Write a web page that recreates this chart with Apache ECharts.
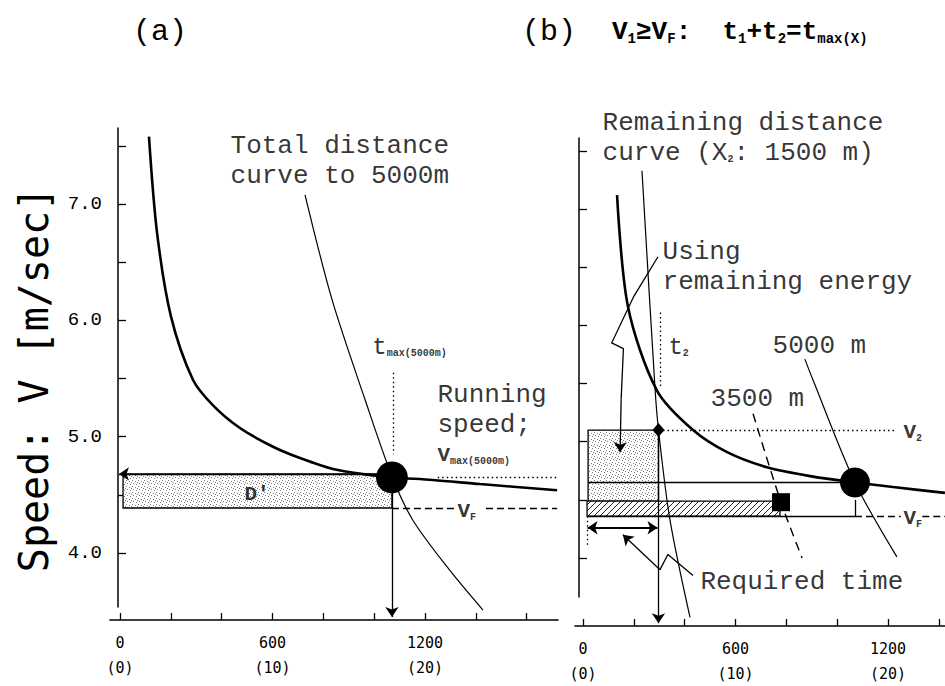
<!DOCTYPE html>
<html>
<head>
<meta charset="utf-8">
<script src="https://cdn.jsdelivr.net/npm/echarts@6/dist/echarts.min.js"></script>
<style>html,body{margin:0;padding:0;background:#fff}#main{width:945px;height:686px}</style>
</head>
<body>
<div id="main"></div>
<script type="text/javascript">
// values: time in s, speed in m/s
var xTicksA = [0, 200, 400, 600, 800, 1000, 1200, 1400, 1600];
var xTicksB = [0, 200, 400, 600, 800, 1000, 1200, 1400];
var xLabelVals = [0, 600, 1200];
var yTicks = [4, 4.5, 5, 5.5, 6, 6.5, 7, 7.5];
var yLabelVals = [4, 5, 6, 7];

// (a) speed curve (thick) and total distance curve to 5000m (thin)
var speedT_a = [114, 146, 201, 287, 366, 472, 602, 708, 838, 972, 1070, 1231, 1416, 1720];
var speedV_a = [7.58, 6.75, 6.03, 5.49, 5.27, 5.075, 4.914, 4.817, 4.722, 4.674, 4.65, 4.628, 4.593, 4.54];
var distT_a = [728, 834, 964, 1070, 1153, 1298, 1428];
var distV_a = [7.08, 6.18, 5.32, 4.66, 4.28, 3.85, 3.51];

// (b) speed curve, remaining distance curve (1500 m), 5000 m and 3500 m curves
var speedT_b = [134, 177, 291, 433, 567, 724, 905, 1070, 1220, 1424];
var speedV_b = [7.12, 6.16, 5.44, 5.10, 4.91, 4.78, 4.70, 4.65, 4.61, 4.56];
var remainT_b = [232, 283, 297, 342, 421];
var remainV_b = [7.33, 5.47, 5.10, 4.33, 3.49];
var d5000T_b = [873, 905, 1070, 1235];
var d5000V_b = [5.71, 5.53, 4.65, 4.01];
var d3500T_b = [669, 779, 862];
var d3500V_b = [5.24, 4.48, 4.00];

var tMax = 1070, vMax = 4.65;
var vF_a = 4.387, vF_b = 4.36;
var t2 = 297, v2 = 5.10;
var square_b = [779, 4.48];

// boxes: [t from, t to, v low, v high, fill 0=stipple 1=hatch]
var boxesA = [[12, tMax, vF_a, 4.68, 0]];
var boxesB = [[20, t2, 4.49, v2, 0], [16, 775, vF_b, 4.49, 1]];

var mono = 'Liberation Mono';

function makePattern(kind) {
    var c = document.createElement('canvas');
    c.width = 6; c.height = 6;
    var ctx = c.getContext('2d');
    ctx.fillStyle = '#fff';
    ctx.fillRect(0, 0, 6, 6);
    if (kind === 0) {
        ctx.fillStyle = '#7a7a7a';
        [[0, 0], [3, 1], [1, 3], [4, 4], [5, 2]].forEach(function (p) { ctx.fillRect(p[0], p[1], 1, 1); });
    } else {
        ctx.strokeStyle = '#222';
        ctx.lineWidth = 1;
        ctx.beginPath();
        ctx.moveTo(0, 6); ctx.lineTo(6, 0);
        ctx.moveTo(-1, 1); ctx.lineTo(1, -1);
        ctx.moveTo(5, 7); ctx.lineTo(7, 5);
        ctx.stroke();
    }
    return {image: c, repeat: 'repeat', imageWidth: 6, imageHeight: 6};
}
var fills = [makePattern(0), makePattern(1)];

function pairs(ts, vs) {
    return ts.map(function (t, i) { return [t, vs[i]]; });
}

function curve(ts, vs, g, width, type) {
    return {
        type: 'line', xAxisIndex: g, yAxisIndex: g, data: pairs(ts, vs),
        smooth: 0.3, showSymbol: false, clip: false, silent: true,
        lineStyle: {color: '#000', width: width, type: type || 'solid'}
    };
}

// straight segments (and polylines when poly is set)
function segs(list, g, sym, poly) {
    return {
        type: 'lines', coordinateSystem: 'cartesian2d', xAxisIndex: g, yAxisIndex: g,
        polyline: !!poly, clip: false, silent: true,
        symbol: sym || 'none', symbolSize: 10,
        lineStyle: {color: '#000', width: 1.3, opacity: 1, curveness: 0},
        data: list.map(function (s) {
            return {coords: s.c, lineStyle: {type: s.s || 'solid', width: s.w || 1.3}};
        })
    };
}

// a leader: polyline body plus its last step drawn with an arrow head
function leaderBody(list) {
    return list.map(function (s) { return {c: s.c.slice(0, s.c.length - 1), w: s.w}; });
}
function leaderTip(list) {
    return list.map(function (s) { return {c: s.c.slice(s.c.length - 2), w: s.w}; });
}

function boxes(list, g) {
    return {
        type: 'custom', xAxisIndex: g, yAxisIndex: g, silent: true,
        data: list,
        renderItem: function (params, api) {
            var p1 = api.coord([api.value(0), api.value(3)]);
            var p2 = api.coord([api.value(1), api.value(2)]);
            return {
                type: 'rect',
                shape: {x: p1[0], y: p1[1], width: p2[0] - p1[0], height: p2[1] - p1[1]},
                style: {fill: fills[api.value(4)], stroke: '#000', lineWidth: 1.3}
            };
        }
    };
}

function marks(points, g, symbol, size) {
    return {
        type: 'scatter', xAxisIndex: g, yAxisIndex: g, silent: true, clip: false,
        symbol: symbol, symbolSize: size, itemStyle: {color: '#000', opacity: 1},
        data: points
    };
}

var rich = {
    t: {fontFamily: mono, fontSize: 24, color: '#000'},
    v: {fontFamily: mono, fontSize: 21, fontWeight: 'bold', color: '#000'},
    x: {fontFamily: mono, fontSize: 26, color: '#000'},
    s: {fontFamily: mono, fontSize: 10, fontWeight: 'bold', color: '#000', padding: [12, 0, 0, 0]}
};
var titleRich = {
    v: {fontFamily: mono, fontSize: 26, fontWeight: 'bold', color: '#000'},
    s: {fontFamily: mono, fontSize: 14, fontWeight: 'bold', color: '#000', padding: [13, 0, 0, 0]}
};

function notes(list, g) {
    return {
        type: 'scatter', xAxisIndex: g, yAxisIndex: g, silent: true, clip: false,
        symbolSize: 1, itemStyle: {color: 'rgba(0,0,0,0)'},
        data: list.map(function (n) {
            var lab = {formatter: n[2], position: n[3] === 'c' ? 'inside' : 'right', distance: 0};
            if (n[3] === 'c') { lab.fontWeight = 'bold'; lab.fontSize = 21; }
            return {value: [n[0], n[1]], label: lab};
        }),
        label: {show: true, color: '#000', fontFamily: mono, fontSize: 26, lineHeight: 30, rich: rich}
    };
}

var notesA = [
    [433, 7.37, 'Total distance\ncurve to 5000m'],
    [991, 5.77, '{t|t}{s|max(5000m)}'],
    [1247, 5.10, 'Running\nspeed;\n{v|V}{s|max(5000m)}'],
    [539, 4.50, "D'", 'c'],
    [1326, 4.36, '{v|V}{s|F}']
];
var notesB = [
    [75, 7.61, 'Remaining distance\ncurve ({x|X}{s|2}: 1500 m)'],
    [311, 6.50, 'Using\nremaining energy'],
    [334, 5.81, '{t|t}{s|2}'],
    [744, 5.82, '5000 m'],
    [500, 5.37, '3500 m'],
    [1259, 5.08, '{v|V}{s|2}'],
    [1259, 4.34, '{v|V}{s|F}'],
    [460, 3.79, 'Required time']
];

var dotted = [1.5, 3];
var dashed = [7, 4];

var plainA = [
    {c: [[tMax, vF_a], [1315, vF_a]], s: dashed},
    {c: [[1440, vF_a], [1720, vF_a]], s: dashed},
    {c: [[1250, vMax], [1720, vMax]], s: dotted},
    {c: [[1075, 5.55], [1075, 4.85]], s: dotted}
];
var arrowsA = [
    {c: [[tMax, vMax], [tMax, 3.45]]},
    {c: [[tMax, 4.68], [-4, 4.68]]}
];

var plainB = [
    {c: [[t2, v2], [1235, v2]], s: dotted},
    {c: [[20, vMax], [tMax, vMax]]},
    {c: [[16, vF_b], [tMax, vF_b]]},
    {c: [[tMax, vF_b], [tMax, 4.50]]},
    {c: [[tMax, vF_b], [1250, vF_b]], s: dashed},
    {c: [[1335, vF_b], [1424, vF_b]], s: dashed},
    {c: [[305, 6.11], [305, 5.47]], s: dotted},
    {c: [[16, vF_b], [16, 4.09]], s: dotted}
];
var arrowsB = [
    {c: [[t2, v2], [t2, 3.44]]}
];
var leadersB = [
    {c: [[433, 3.85], [334, 4.03], [303, 3.90], [157, 4.20]]},
    {c: [[295, 6.59], [200, 6.25], [113, 5.85], [159, 5.80], [150, 5.36], [146, 4.91]]}
];
var doubleB = [
    {c: [[18, 4.26], [293, 4.26]], w: 2}
];

function xAxisFor(g, min, max, ticks, offset) {
    return {
        type: 'value', gridIndex: g, min: min, max: max, offset: offset,
        axisLine: {onZero: false, lineStyle: {color: '#000', width: 1.6}},
        axisTick: {inside: true, length: 7, customValues: ticks, lineStyle: {color: '#000', width: 1.3}},
        axisLabel: {
            customValues: xLabelVals, margin: 10, color: '#000',
            fontFamily: 'DejaVu Sans Mono', fontSize: 15, lineHeight: 25,
            formatter: function (v) { return v + '\n(' + (v / 60) + ')'; }
        },
        splitLine: {show: false}
    };
}

function yAxisFor(g, min, max, offset, showLabels) {
    return {
        type: 'value', gridIndex: g, min: min, max: max, offset: offset,
        axisLine: {show: true, onZero: false, lineStyle: {color: '#000', width: 1.5}},
        axisTick: {show: true, inside: true, length: 8, customValues: yTicks, lineStyle: {color: '#000', width: 1.3}},
        axisLabel: {
            show: showLabels, customValues: yLabelVals, margin: 16, color: '#000',
            fontFamily: mono, fontSize: 19,
            formatter: function (v) { return v.toFixed(1); }
        },
        splitLine: {show: false}
    };
}

var myChart = echarts.init(document.getElementById('main'), null, {renderer: 'svg'});

var yA = yAxisFor(0, 3.536, 7.654, -8, true);
yA.name = 'Speed: V [m/sec]';
yA.nameLocation = 'middle';
yA.nameRotate = 90;
yA.nameGap = 64;
yA.nameTextStyle = {fontFamily: 'DejaVu Sans Mono', fontSize: 40, color: '#000', padding: [0, 24, 0, 0]};

var option = {
    backgroundColor: '#fff',
    animation: false,
    title: [
        {text: '(a)', left: 128, top: 12, textStyle: {fontFamily: mono, fontSize: 30, fontWeight: 'normal', color: '#000'}},
        {
            text: '(b)  {v|V}{s|1}{v|≥V}{s|F}{v|:  t}{s|1}{v|+t}{s|2}{v|=t}{s|max(X)}',
            left: 517, top: 12,
            textStyle: {fontFamily: mono, fontSize: 30, fontWeight: 'normal', color: '#000', rich: titleRich}
        }
    ],
    grid: [
        {left: 110, top: 128, width: 448, height: 479},
        {left: 575, top: 138, width: 370, height: 459}
    ],
    xAxis: [
        xAxisFor(0, -39.3, 1723.3, xTicksA, 13),
        xAxisFor(1, -31.5, 1424.3, xTicksB, 29)
    ],
    yAxis: [
        yA,
        yAxisFor(1, 3.665, 7.611, -4, false)
    ],
    series: [
        boxes(boxesA, 0),
        curve(speedT_a, speedV_a, 0, 2.6),
        curve(distT_a, distV_a, 0, 1.2),
        segs(plainA, 0),
        segs(arrowsA, 0, ['none', 'arrow']),
        marks([[tMax, vMax]], 0, 'circle', 32),
        notes(notesA, 0),

        boxes(boxesB, 1),
        curve(speedT_b, speedV_b, 1, 2.6),
        curve(remainT_b, remainV_b, 1, 1.2),
        curve(d5000T_b, d5000V_b, 1, 1.2),
        curve(d3500T_b, d3500V_b, 1, 1.4, [9, 6]),
        segs(plainB, 1),
        segs(leaderBody(leadersB), 1, 'none', true),
        segs(arrowsB.concat(leaderTip(leadersB)), 1, ['none', 'arrow']),
        segs(doubleB, 1, ['arrow', 'arrow']),
        marks([[tMax, vMax]], 1, 'circle', 30),
        marks([square_b], 1, 'rect', 18),
        marks([[t2, v2]], 1, 'diamond', [12, 14]),
        notes(notesB, 1)
    ]
};

myChart.setOption(option);
</script>
</body>
</html>
